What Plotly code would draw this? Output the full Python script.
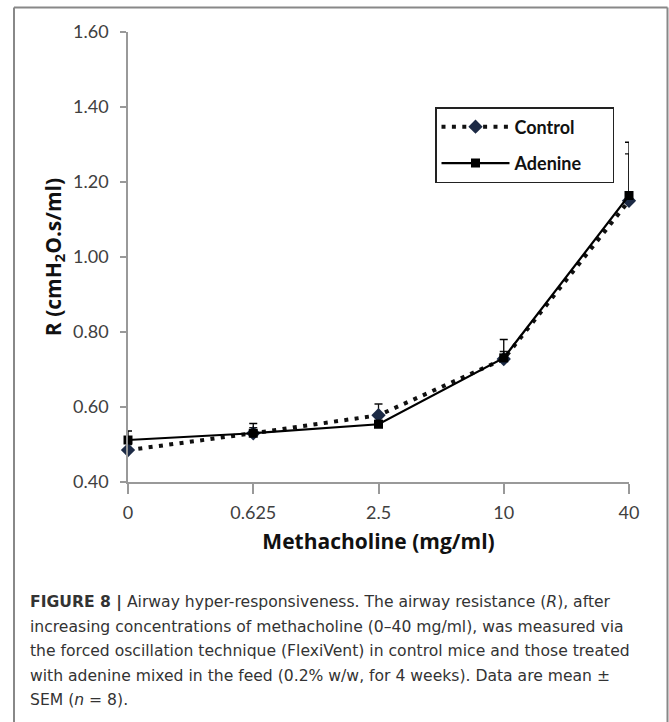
import plotly.graph_objects as go

categories = ["0", "0.625", "2.5", "10", "40"]
control = [0.485, 0.530, 0.578, 0.728, 1.150]
control_err = [0.015, 0.015, 0.030, 0.020, 0.125]
adenine = [0.512, 0.530, 0.554, 0.731, 1.164]
adenine_err = [0.024, 0.026, 0.010, 0.049, 0.142]
y_ticks = [0.40, 0.60, 0.80, 1.00, 1.20, 1.40, 1.60]

caption_lines = [
    "<b>FIGURE 8 |</b> Airway hyper-responsiveness. The airway resistance (<i>R</i>), after",
    "increasing concentrations of methacholine (0–40 mg/ml), was measured via",
    "the forced oscillation technique (FlexiVent) in control mice and those treated",
    "with adenine mixed in the feed (0.2% w/w, for 4 weeks). Data are mean ±",
    "SEM (<i>n</i> = 8).",
]

W, H = 669, 722
xidx = list(range(len(categories)))
pad = "<span style='color:rgba(0,0,0,0)'>nni</span>"

fig = go.Figure()
fig.add_trace(go.Scatter(
    x=xidx, y=control, name="Control" + pad, mode="lines+markers",
    line=dict(color="#111111", width=4, dash="4px,6.4px"),
    marker=dict(symbol="diamond", size=11, color="#1c2a45"),
    error_y=dict(type="data", symmetric=False, array=control_err,
                 arrayminus=[0] * len(control), color="#111111", thickness=1.3, width=4),
    cliponaxis=False, legendgroup="a",
))
fig.add_trace(go.Scatter(
    x=xidx, y=adenine, name="Adenine" + pad, mode="lines+markers",
    line=dict(color="#000000", width=2.2),
    marker=dict(symbol="square", size=9, color="#000000"),
    error_y=dict(type="data", symmetric=False, array=adenine_err,
                 arrayminus=[0] * len(adenine), color="#000000", thickness=1.3, width=4),
    cliponaxis=False, legendgroup="b",
))

x0, x1 = 128 / W, 629 / W
y0, y1 = 1 - 482 / H, 1 - 32 / H

fig.update_layout(
    width=W, height=H, margin=dict(l=0, r=0, t=0, b=0, autoexpand=False),
    paper_bgcolor="white", plot_bgcolor="white",
    showlegend=True,
    legend=dict(x=435 / W, y=1 - 107 / H, xanchor="left", yanchor="top",
                bordercolor="#222222", borderwidth=1.5, bgcolor="white",
                font=dict(family="Lato", size=18, color="#111111", weight="bold"),
                traceorder="grouped", tracegroupgap=10, itemwidth=68),
    xaxis=dict(domain=[x0, x1], range=[0, 4], tickmode="array", tickvals=xidx,
               ticktext=categories, showgrid=False, zeroline=False, automargin=False,
               showline=True, linecolor="#999999", linewidth=1.5,
               ticks="outside", ticklen=10, tickcolor="#999999", tickwidth=1.5,
               ticklabelstandoff=4,
               tickfont=dict(family="Lato", size=18, color="#404040"),
               title=dict(text="<b>Methacholine (mg/ml)</b>", standoff=12,
                          font=dict(family="Open Sans", size=21, color="#111111"))),
    yaxis=dict(domain=[y0, y1], range=[0.4, 1.6], tickmode="array", tickvals=y_ticks,
               ticktext=[f"{v:.2f}" for v in y_ticks], showgrid=False, zeroline=False,
               automargin=False,
               showline=True, linecolor="#999999", linewidth=1.5,
               ticks="outside", ticklen=6, tickcolor="#999999", tickwidth=1.5,
               ticklabelstandoff=8,
               tickfont=dict(family="Lato", size=18, color="#404040"),
               title=dict(text="<b>R (cmH<sub>2</sub>O.s/ml)</b>", standoff=6,
                          font=dict(family="Open Sans", size=21, color="#111111"))),
)

# figure frame (open at bottom)
fig.add_shape(type="line", xref="paper", yref="paper", x0=14 / W, x1=14 / W,
              y0=0, y1=1 - 7.5 / H, line=dict(color="#888888", width=2))
fig.add_shape(type="line", xref="paper", yref="paper", x0=14 / W, x1=667.5 / W,
              y0=1 - 7.5 / H, y1=1 - 7.5 / H, line=dict(color="#888888", width=2))
fig.add_shape(type="line", xref="paper", yref="paper", x0=667.5 / W, x1=667.5 / W,
              y0=0, y1=1 - 7.5 / H, line=dict(color="#888888", width=2))

line_y = [602, 626.5, 651, 675.5, 700]
for txt, ly in zip(caption_lines, line_y):
    fig.add_annotation(text=txt, xref="paper", yref="paper", x=28 / W, y=1 - ly / H,
                       xanchor="left", yanchor="middle", showarrow=False, align="left",
                       font=dict(family="DejaVu Sans", size=15.6, color="#333333"))

fig.write_html("out.html")
